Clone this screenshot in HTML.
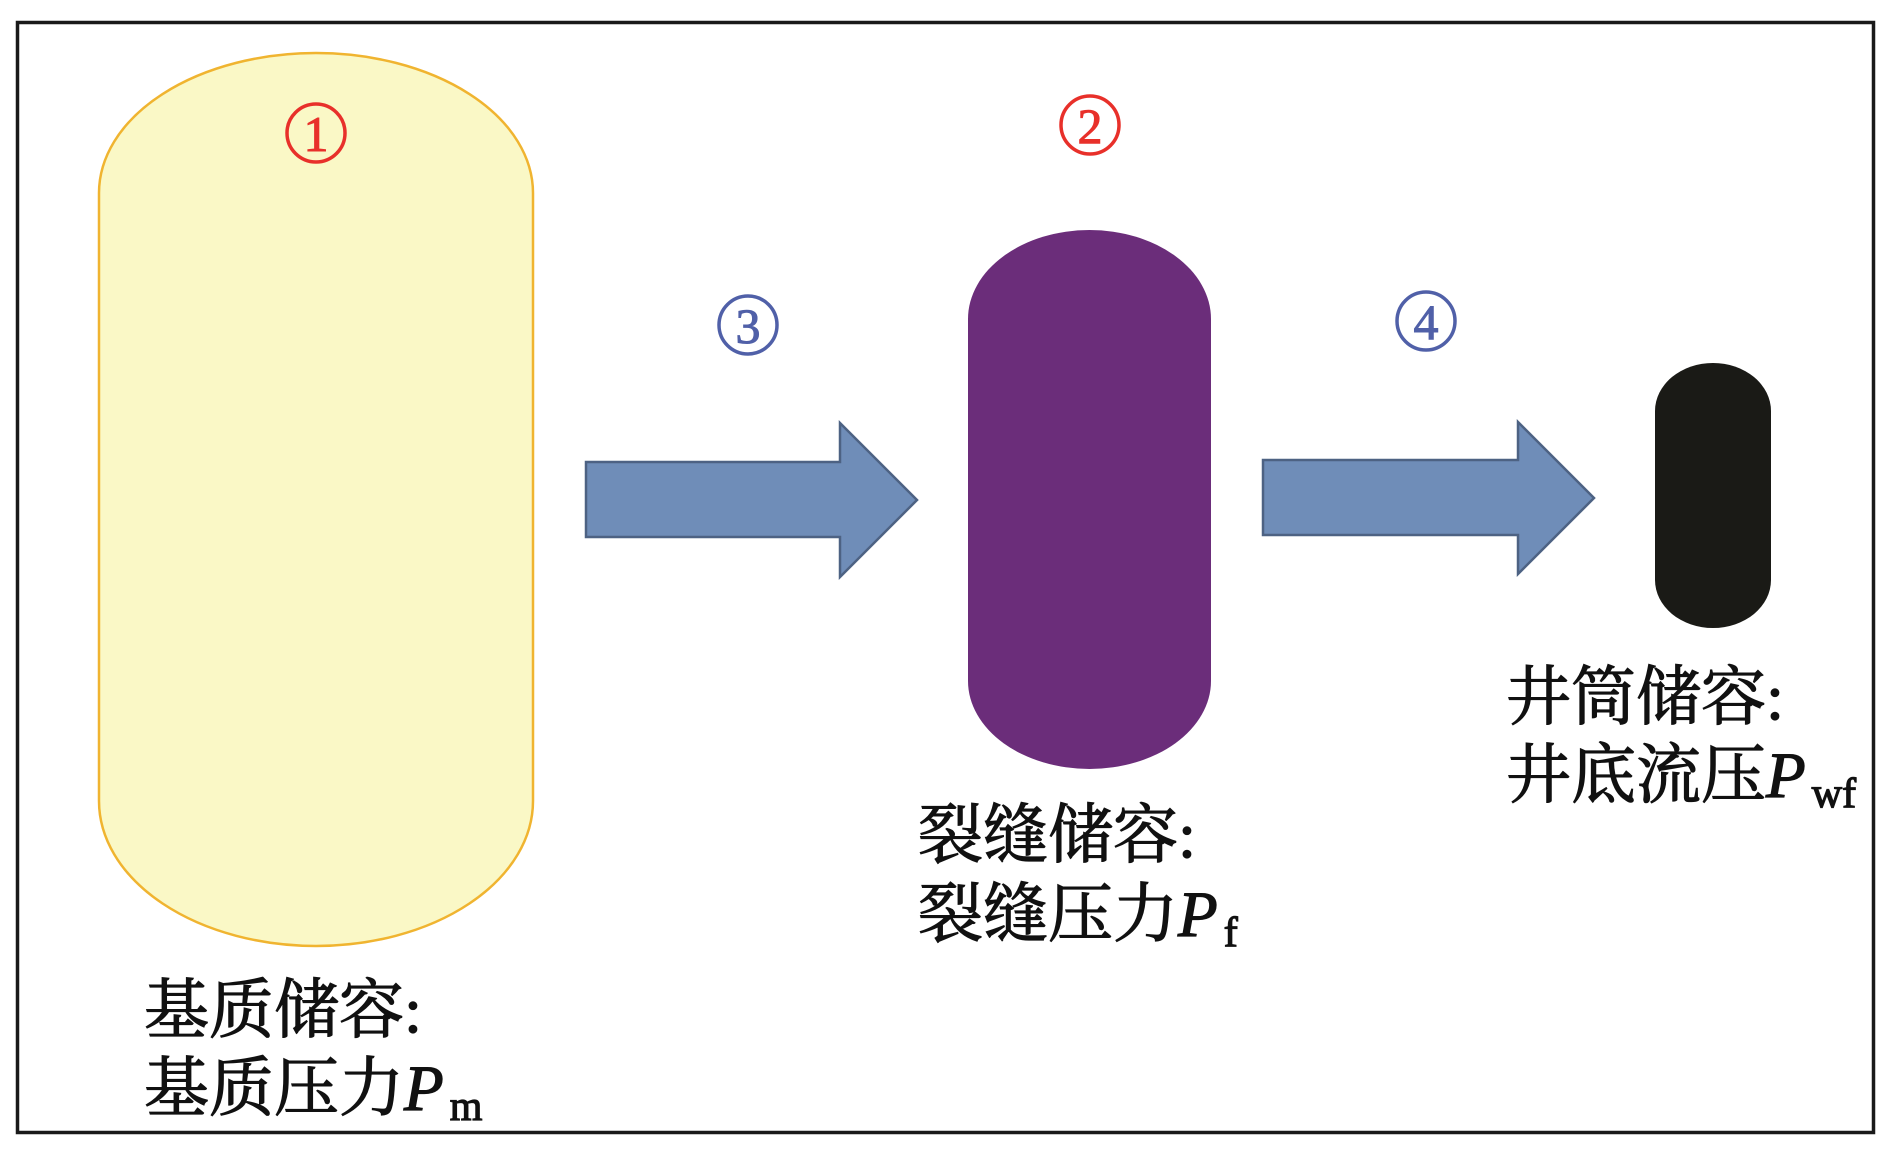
<!DOCTYPE html>
<html><head><meta charset="utf-8"><style>
html,body{margin:0;padding:0;background:#fff;}
svg{display:block;}
text{font-family:"Liberation Serif","Noto Serif CJK SC",serif;}
</style></head><body>
<svg width="1890" height="1153" viewBox="0 0 1890 1153" xmlns="http://www.w3.org/2000/svg">
<rect x="0" y="0" width="1890" height="1153" fill="#fff"/>
<rect x="17.5" y="22.5" width="1856" height="1110" fill="#fff" stroke="#1a1a1a" stroke-width="3.5"/>
<path d="M99,193 A217,140 0 0 1 533,193 L533,801 A217,145 0 0 1 99,801 Z" fill="#faf8c6" stroke="#f0b430" stroke-width="2.5"/>
<path d="M968,319 A121.5,89 0 0 1 1211,319 L1211,681 A121.5,88 0 0 1 968,681 Z" fill="#6b2d7a"/>
<path d="M1655,411 A58,48 0 0 1 1771,411 L1771,580 A58,48 0 0 1 1655,580 Z" fill="#1a1a16"/>
<polygon points="586,462 840,462 840,423 917,500 840,577 840,537 586,537" fill="#6f8db8" stroke="#4d6283" stroke-width="2.5"/>
<polygon points="1263,460 1518,460 1518,422 1594,498 1518,574 1518,535 1263,535" fill="#6f8db8" stroke="#4d6283" stroke-width="2.5"/>
<g fill="none" stroke-width="3.5">
<circle cx="316" cy="133" r="29" stroke="#e8302a"/>
<circle cx="1090" cy="125" r="29" stroke="#e8302a"/>
<circle cx="748" cy="325" r="29" stroke="#5060a8"/>
<circle cx="1426" cy="321" r="29" stroke="#5060a8"/>
</g>
<g font-size="50" text-anchor="middle" stroke-width="1">
<text x="316" y="151" fill="#e8302a" stroke="#e8302a">1</text>
<text x="1090" y="143" fill="#e8302a" stroke="#e8302a">2</text>
<text x="748" y="343" fill="#5060a8" stroke="#5060a8">3</text>
<text x="1426" y="339" fill="#5060a8" stroke="#5060a8">4</text>
</g>
<g font-size="65" fill="#111" stroke="#111" stroke-width="1.2">
<text x="144" y="1032">基质储容<tspan font-family="Liberation Serif">:</tspan></text>
<text x="144" y="1110">基质压力<tspan font-style="italic">P</tspan><tspan font-size="42" dy="10" dx="6">m</tspan></text>
<text x="918" y="857">裂缝储容<tspan font-family="Liberation Serif">:</tspan></text>
<text x="918" y="936">裂缝压力<tspan font-style="italic">P</tspan><tspan font-size="42" dy="10" dx="6">f</tspan></text>
<text x="1506" y="719">井筒储容<tspan font-family="Liberation Serif">:</tspan></text>
<text x="1506" y="797">井底流压<tspan font-style="italic">P</tspan><tspan font-size="42" dy="10" dx="6">wf</tspan></text>
</g>
</svg>
</body></html>
